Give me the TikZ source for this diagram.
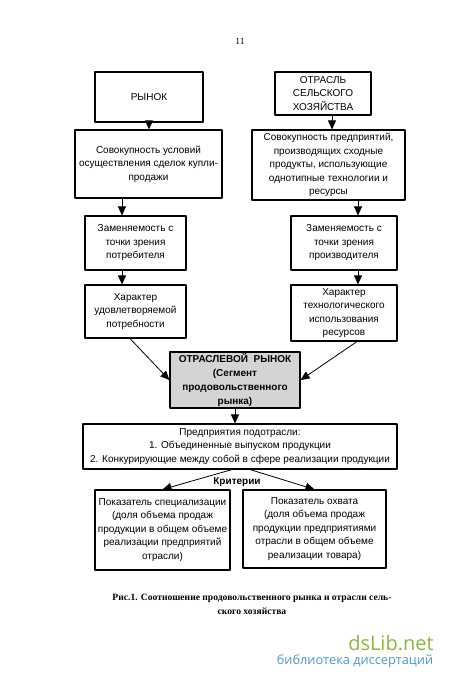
\documentclass[tikz,border=0pt]{standalone}
\usepackage{fontspec}
\setmainfont{Liberation Serif}
\newfontfamily\boxfont{Liberation Sans}
\newfontfamily\markfont{Open Sans}
\usepackage{tikz}
\usetikzlibrary{arrows.meta}
\definecolor{segfill}{RGB}{212,212,212}
\definecolor{dsgreen}{RGB}{138,182,60}
\definecolor{dsblue}{RGB}{75,150,210}

\begin{document}
\begin{tikzpicture}[x=1pt,y=-1pt,>={Triangle[width=8pt,length=9pt]},line join=round,
  box/.style={draw,line width=1.1pt,align=center,inner sep=1pt,
    font=\boxfont\fontsize{10}{13.5}\selectfont},
  conn/.style={->,line width=0.8pt}]
  \useasboundingbox (0,0) rectangle (450,681);
  \node[font=\fontsize{9.5}{12}\selectfont] (pagenum) at (240,41) {11};
  \node[box,minimum width=108pt,minimum height=50pt] (rynok) at (149,97) {РЫНОК};
  \node[box,minimum width=96pt,minimum height=43pt] (otrasl) at (323,93.5) {ОТРАСЛЬ\\СЕЛЬСКОГО\\ХОЗЯЙСТВА};
  \node[box,minimum width=147pt,minimum height=68pt] (sovL) at (148.5,164) {Совокупность условий\\осуществления сделок купли-\\продажи};
  \node[box,minimum width=153pt,minimum height=70pt] (sovR) at (328.5,165) {Совокупность предприятий,\\производящих сходные\\продукты, использующие\\однотипные технологии и\\ресурсы};
  \node[box,minimum width=101pt,minimum height=54pt] (zamL) at (135.5,243) {Заменяемость с\\точки зрения\\потребителя};
  \node[box,minimum width=106pt,minimum height=54pt] (zamR) at (344,243) {Заменяемость с\\точки зрения\\производителя};
  \node[box,minimum width=101pt,minimum height=53pt] (harL) at (135.5,311.5) {Характер\\удовлетворяемой\\потребности};
  \node[box,minimum width=106pt,minimum height=56pt] (harR) at (344,313) {Характер\\технологического\\использования\\ресурсов};
  \node[box,fill=segfill,line width=1.3pt,minimum width=130pt,minimum height=56pt,
    font=\boxfont\bfseries\fontsize{10}{14.3}\selectfont] (seg) at (235,380) {ОТРАСЛЕВОЙ~~РЫНОК\\(Сегмент\\продовольственного\\рынка)};
  \node[box,minimum width=314pt,minimum height=45pt] (pred) at (240,446.5) {Предприятия подотрасли:\\1. Объединенные выпуском продукции\\2. Конкурирующие между собой в сфере реализации продукции};
  \node[font=\boxfont\bfseries\fontsize{10}{12}\selectfont] (krit) at (237,482) {Критерии};
  \node[box,minimum width=135pt,minimum height=80pt] (pokL) at (162.5,530) {Показатель специализации\\(доля объема продаж\\продукции в общем объеме\\реализации предприятий\\отрасли)};
  \node[box,minimum width=143pt,minimum height=78pt] (pokR) at (314.5,529) {Показатель охвата\\(доля объема продаж\\продукции предприятиями\\отрасли в общем объеме\\реализации товара)};
  % connectors
  \draw[conn] (rynok.south) -- (rynok.south |- sovL.north);
  \draw[conn] ([xshift=-13.5pt]zamL.north |- sovL.south) -- ([xshift=-13.5pt]zamL.north);
  \draw[conn] ([xshift=-13.5pt]zamL.south) -- ([xshift=-13.5pt]harL.north);
  \draw[conn] ([xshift=9pt]otrasl.south) -- ([xshift=9pt]otrasl.south |- sovR.north);
  \draw[conn] ([xshift=14pt]zamR.north |- sovR.south) -- ([xshift=14pt]zamR.north);
  \draw[conn] ([xshift=14pt]zamR.south) -- ([xshift=14pt]harR.north);
  \draw[conn] ([xshift=-5.5pt]harL.south) -- (seg.west);
  \draw[conn] ([xshift=13pt]harR.south) -- (seg.east);
  \draw[conn] (seg.south) -- (seg.south |- pred.north);
  \draw[conn] ([xshift=-8pt]pred.south) -- (pokL.north);
  \draw[conn] ([xshift=10pt]pred.south) -- (pokR.north);
  % caption
  \node[align=center,font=\bfseries\fontsize{9.6}{14}\selectfont] (caption) at (252,604)
    {Рис.1. Соотношение продовольственного рынка и отрасли сель-\\ского хозяйства};
  % watermark
  \node[font=\markfont\fontsize{20}{22}\selectfont,text=dsgreen] (dslib) at (391,643) {dsLib.net};
  \node[font=\markfont\fontsize{12.8}{14}\selectfont,text=dsblue] (dsbib) at (355,661) {библиотека диссертаций};
\end{tikzpicture}
\end{document}
